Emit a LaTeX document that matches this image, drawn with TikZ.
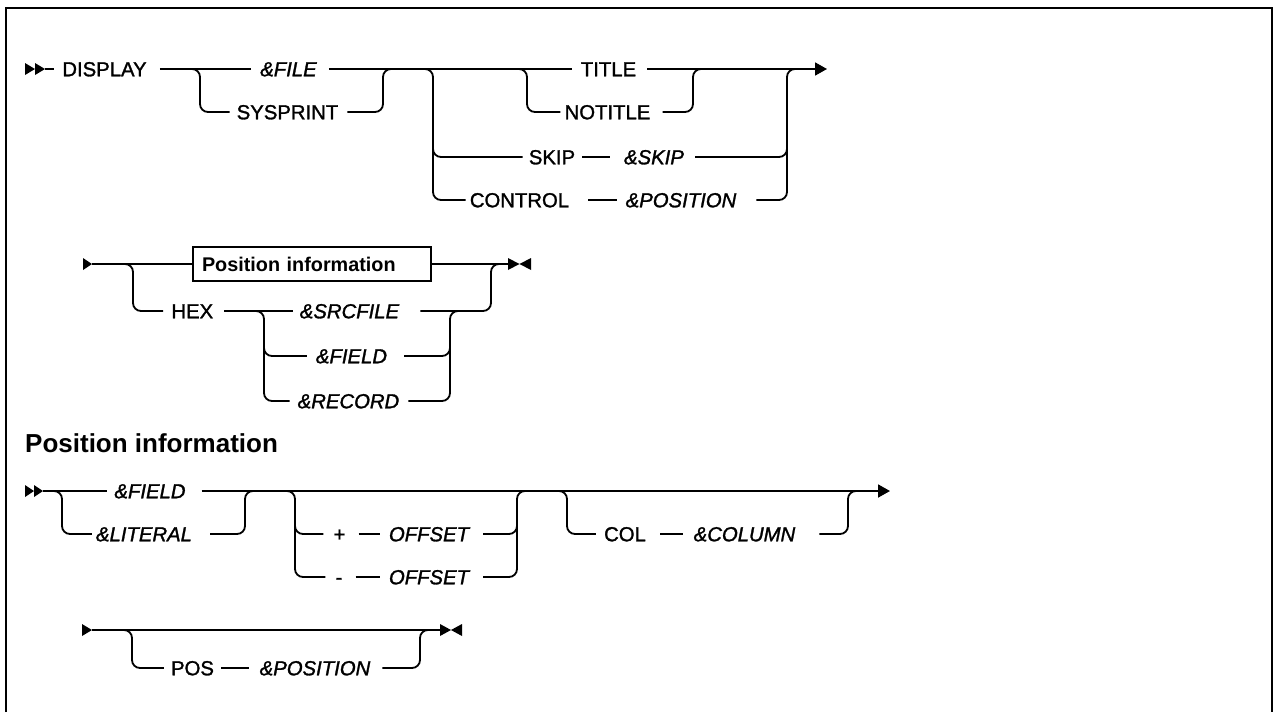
\documentclass[tikz,border=0pt]{standalone}
\usepackage{fontspec}
\setmainfont{Liberation Sans}
\newfontfamily\railfont{Liberation Sans}[FakeBold=1.4,ItalicFeatures={FakeBold=1.4}]
\usetikzlibrary{arrows.meta}
\newcommand\RRtri[2]{\fill ([yshift=6pt]#1) -- ([xshift=#2]#1) -- ([yshift=-6pt]#1) -- cycle;}
\newcommand\LLtri[2]{\fill ([yshift=6pt]#1) -- ([xshift=-#2]#1) -- ([yshift=-6pt]#1) -- cycle;}
\begin{document}
\begin{tikzpicture}[x=1pt,y=-1pt,
  rail/.style={line width=1.8pt},
  rc/.style={rail,rounded corners=8pt},
  kw/.style={inner sep=0pt,text height=14.5pt,text depth=0pt,anchor=center,font=\fontsize{20.3}{24}\railfont},
  var/.style={kw,font=\fontsize{20.3}{24}\railfont\itshape},
  boxnode/.style={draw,line width=1.4pt,inner xsep=9pt,inner ysep=0pt,minimum height=34pt,text width=220pt,align=left,text height=14pt,text depth=0pt,font=\fontsize{19.8}{23}\selectfont\bfseries},
  endtip/.style={-{Triangle[length=12pt,width=13pt]}}]
\useasboundingbox (0,0) rectangle (1274,712);
\draw[line width=2.4pt] (6.2,712) -- (6.2,7.9) -- (1272.2,7.9) -- (1272.2,712);

% ---------- Row 1 ----------
\node[kw] (display) at (104.5,69) {DISPLAY};
\node[var] (file) at (288.5,69) {\&FILE};
\node[kw] (sysprint) at (287.5,112) {SYSPRINT};
\node[kw] (title) at (608.5,69) {TITLE};
\node[kw] (notitle) at (607.5,112) {NOTITLE};
\node[kw] (skip) at (552,157) {SKIP};
\node[var] (skipv) at (654,157) {\&SKIP};
\node[kw] (control) at (519.5,200) {CONTROL};
\node[var] (ctrlpos) at (681,200) {\&POSITION};
\coordinate (a1) at (25,69); \coordinate (a2) at (35,69); \coordinate (s1) at (45,69);
\coordinate (j1) at (200,69); \coordinate (j1b) at (200,112);
\coordinate (k1) at (383,69); \coordinate (k1b) at (383,112);
\coordinate (j2) at (433,69); \coordinate (j2s) at (433,157); \coordinate (j2c) at (433,200);
\coordinate (k2) at (787,69); \coordinate (k2s) at (787,157); \coordinate (k2c) at (787,200);
\coordinate (j3) at (527,69); \coordinate (j3b) at (527,112);
\coordinate (k3) at (693,69); \coordinate (k3b) at (693,112);
\coordinate (e1) at (827,69);
\RRtri{a1}{10} \RRtri{a2}{10}
\draw[rail] (s1) -- ([xshift=-8pt]display.west);
\draw[rail] ([xshift=13pt]display.east) -- ([xshift=-9pt]file.west);
\draw[rail] ([xshift=12pt]file.east) -- ([xshift=-9pt]title.west);
\draw[rail,endtip] ([xshift=11pt]title.east) -- (e1);
\draw[rc] ([xshift=-14pt]j1) -- (j1) -- (j1b) -- ([xshift=-7pt]sysprint.west);
\draw[rc] ([xshift=9pt]sysprint.east) -- (k1b) -- (k1) -- ([xshift=14pt]k1);
\draw[rc] ([xshift=-14pt]j2) -- (j2) -- (j2c) -- ([xshift=-4pt]control.west);
\draw[rc] ([yshift=16pt]j2s) -- (j2s) -- ([xshift=-6pt]skip.west);
\draw[rail] ([xshift=7pt]skip.east) -- ([xshift=-14pt]skipv.west);
\draw[rc] ([xshift=11pt]skipv.east) -- (k2s) -- ([yshift=16pt]k2s);
\draw[rail] ([xshift=19pt]control.east) -- ([xshift=-9pt]ctrlpos.west);
\draw[rc] ([xshift=20pt]ctrlpos.east) -- (k2c) -- (k2) -- ([xshift=14pt]k2);
\draw[rc] ([xshift=-14pt]j3) -- (j3) -- (j3b) -- ([xshift=-4pt]notitle.west);
\draw[rc] ([xshift=12pt]notitle.east) -- (k3b) -- (k3) -- ([xshift=14pt]k3);

% ---------- Row 2 ----------
\node[boxnode] (posbox) at (312,264) {Position information};
\node[kw] (hex) at (192.3,311) {HEX};
\node[var] (srcfile) at (349.5,311) {\&SRCFILE};
\node[var] (field2) at (351.5,356) {\&FIELD};
\node[var] (record) at (348.5,401) {\&RECORD};
\coordinate (b2) at (83,264); \coordinate (s2) at (92,264);
\coordinate (j4) at (133,264); \coordinate (j4b) at (133,311);
\coordinate (k4) at (491,264); \coordinate (k4b) at (491,311);
\coordinate (j5) at (264,311); \coordinate (j5f) at (264,356); \coordinate (j5r) at (264,401);
\coordinate (k5) at (450,311); \coordinate (k5f) at (450,356); \coordinate (k5r) at (450,401);
\coordinate (m2a) at (508,264); \coordinate (m2b) at (531,264);
\RRtri{b2}{9}
\draw[rail] (s2) -- (posbox.west);
\draw[rail] (posbox.east) -- (m2a);
\RRtri{m2a}{11.5} \LLtri{m2b}{11.5}
\draw[rc] ([xshift=-14pt]j4) -- (j4) -- (j4b) -- ([xshift=-8pt]hex.west);
\draw[rail] ([xshift=11pt]hex.east) -- ([xshift=-7pt]srcfile.west);
\draw[rc] ([xshift=-14pt]j5) -- (j5) -- (j5r) -- ([xshift=-8pt]record.west);
\draw[rc] ([yshift=16pt]j5f) -- (j5f) -- ([xshift=-9pt]field2.west);
\draw[rc] ([xshift=21pt]srcfile.east) -- (k4b) -- (k4) -- ([xshift=14pt]k4);
\draw[rc] ([xshift=17pt]field2.east) -- (k5f) -- ([yshift=16pt]k5f);
\draw[rc] ([xshift=9pt]record.east) -- (k5r) -- (k5) -- ([xshift=14pt]k5);

% ---------- Heading ----------
\node[anchor=base west,inner sep=0pt,font=\fontsize{26}{30}\selectfont\bfseries] (head) at (25,452) {Position information};

% ---------- Row 3 ----------
\node[var] (field3) at (150,491) {\&FIELD};
\node[var] (literal) at (144,534) {\&LITERAL};
\node[kw] (plus) at (339.5,534) {+};
\node[var] (off1) at (429,534) {OFFSET};
\node[kw] (minus) at (339,577) {-};
\node[var] (off2) at (429,577) {OFFSET};
\node[kw] (col) at (625,534) {COL};
\node[var] (column) at (744.5,534) {\&COLUMN};
\coordinate (c1) at (25,491); \coordinate (c2) at (34,491); \coordinate (s3) at (43,491);
\coordinate (j6) at (62,491); \coordinate (j6b) at (62,534);
\coordinate (k6) at (245,491); \coordinate (k6b) at (245,534);
\coordinate (j7) at (295,491); \coordinate (j7p) at (295,534); \coordinate (j7m) at (295,577);
\coordinate (k7) at (517,491); \coordinate (k7p) at (517,534); \coordinate (k7m) at (517,577);
\coordinate (j8) at (567,491); \coordinate (j8b) at (567,534);
\coordinate (k8) at (848,491); \coordinate (k8b) at (848,534);
\coordinate (e3) at (890,491);
\RRtri{c1}{9} \RRtri{c2}{9}
\draw[rail] (s3) -- ([xshift=-7pt]field3.west);
\draw[rail,endtip] ([xshift=16pt]field3.east) -- (e3);
\draw[rc] ([xshift=-14pt]j6) -- (j6) -- (j6b) -- ([xshift=-4pt]literal.west);
\draw[rc] ([xshift=18pt]literal.east) -- (k6b) -- (k6) -- ([xshift=14pt]k6);
\draw[rc] ([xshift=-14pt]j7) -- (j7) -- (j7m) -- ([xshift=-10pt]minus.west);
\draw[rc] ([yshift=16pt]j7p) -- (j7p) -- ([xshift=-10pt]plus.west);
\draw[rail] ([xshift=13pt]plus.east) -- ([xshift=-9pt]off1.west);
\draw[rail] ([xshift=13pt]minus.east) -- ([xshift=-9pt]off2.west);
\draw[rc] ([xshift=14pt]off1.east) -- (k7p) -- ([yshift=16pt]k7p);
\draw[rc] ([xshift=14pt]off2.east) -- (k7m) -- (k7) -- ([xshift=14pt]k7);
\draw[rc] ([xshift=-14pt]j8) -- (j8) -- (j8b) -- ([xshift=-8pt]col.west);
\draw[rail] ([xshift=14pt]col.east) -- ([xshift=-11pt]column.west);
\draw[rc] ([xshift=24pt]column.east) -- (k8b) -- (k8) -- ([xshift=14pt]k8);

% ---------- Row 4 ----------
\node[kw] (pos) at (192.5,668) {POS};
\node[var] (pospos) at (315,668) {\&POSITION};
\coordinate (d1) at (82,630); \coordinate (s4) at (92,630);
\coordinate (j9) at (132,630); \coordinate (j9b) at (132,668);
\coordinate (k9) at (420,630); \coordinate (k9b) at (420,668);
\coordinate (m4a) at (440,630); \coordinate (m4b) at (462,630);
\RRtri{d1}{10}
\draw[rail] (s4) -- (m4a);
\RRtri{m4a}{11} \LLtri{m4b}{11}
\draw[rc] ([xshift=-14pt]j9) -- (j9) -- (j9b) -- ([xshift=-7pt]pos.west);
\draw[rail] ([xshift=7pt]pos.east) -- ([xshift=-11pt]pospos.west);
\draw[rc] ([xshift=12pt]pospos.east) -- (k9b) -- (k9) -- ([xshift=14pt]k9);
\end{tikzpicture}
\end{document}
